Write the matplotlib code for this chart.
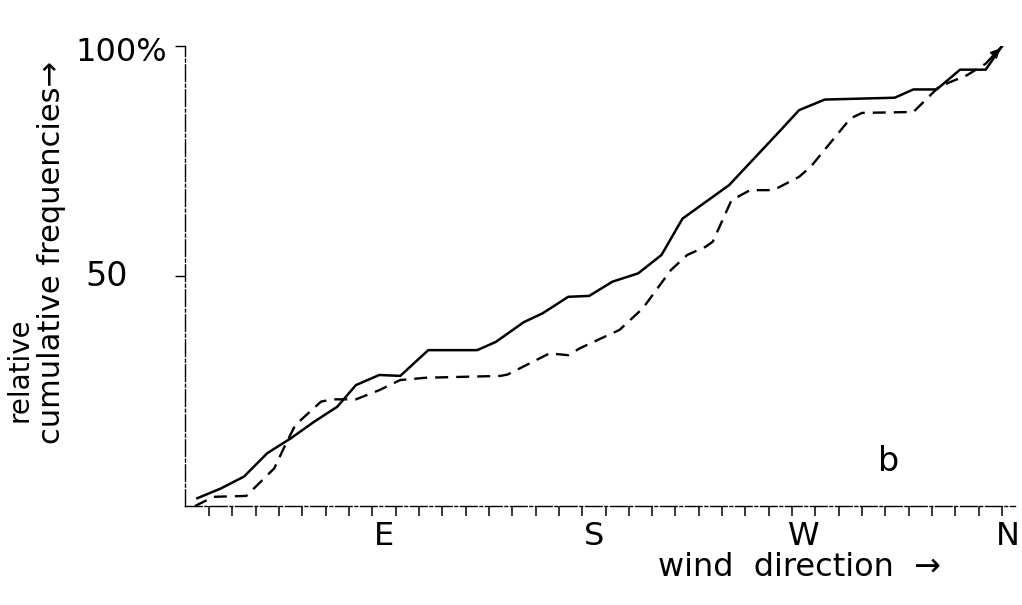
import matplotlib
matplotlib.use('Agg')
import matplotlib.pyplot as plt
from matplotlib.transforms import ScaledTranslation

# wind direction in degrees (N = 360), relative cumulative frequency in %
solid_x = [10, 20, 30, 40, 50, 60, 70, 78, 88, 97, 109, 130, 138, 150, 158, 169, 178,
           188, 199, 209, 218, 238, 260, 268, 279, 309, 317, 327, 337, 348, 355]
solid_y = [1.7, 3.8, 6.4, 11.5, 14.7, 18.3, 21.6, 26.3, 28.5, 28.3, 33.9, 33.9, 35.7,
           40.0, 41.9, 45.5, 45.7, 48.8, 50.6, 54.6, 62.5, 69.8, 81.7, 86.1, 88.4, 88.8,
           90.6, 90.6, 94.9, 94.9, 100]

dashed_x = [9, 17, 31, 43, 48, 52, 63, 68, 78, 88, 97, 108, 140, 143, 161, 169, 174, 182,
            191, 201, 213, 220, 228, 231, 239, 247, 257, 268, 273, 290, 295, 317, 328,
            340, 348, 355]
dashed_y = [0, 2.0, 2.2, 8.2, 13.6, 17.6, 22.7, 23.2, 23.2, 25.2, 27.4, 27.9, 28.3, 28.6,
            33.2, 32.8, 34.3, 36.2, 38.3, 43.0, 51.3, 54.6, 56.4, 57.5, 66.5, 68.7, 68.7,
            71.6, 73.8, 84.3, 85.5, 85.7, 91.2, 93.7, 96.2, 100]

dir_ticks = [90, 180, 270, 360]
dir_labels = ['E', 'S', 'W', 'N']
minor_ticks = list(range(15, 360, 10))

plt.rcParams['font.family'] = ['DejaVu Sans']

fig = plt.figure(figsize=(10.22, 6.05), dpi=100)
ax = fig.add_axes([0.181, 0.1636, 0.812, 0.760])

ax.plot(solid_x, solid_y, color='black', lw=1.8, solid_joinstyle='round')
ax.plot(dashed_x, dashed_y, color='black', lw=1.7, dashes=(5.5, 3.4))
ax.annotate('', xy=(dashed_x[-1], dashed_y[-1]), xytext=(dashed_x[-2], dashed_y[-2]),
            arrowprops=dict(arrowstyle='-|>', color='black', lw=1.2, mutation_scale=14))

ax.set_xlim(4.7, 360.5)
ax.set_ylim(0, 100)

for s in ['top', 'right']:
    ax.spines[s].set_visible(False)
for s in ['left', 'bottom']:
    ax.spines[s].set_linewidth(1.0)
    ax.spines[s].set_linestyle((0, (12, 2, 2, 2)))

ax.set_xticks(dir_ticks)
ax.set_xticklabels(dir_labels, fontsize=23)
ax.set_xticks(minor_ticks, minor=True)
ax.tick_params(axis='x', which='major', length=0, pad=11)
ax.tick_params(axis='x', which='minor', length=7, width=1.1, direction='out')

# keep the N label inside the picture
last = ax.get_xticklabels()[-1]
last.set_ha('right')
last.set_transform(last.get_transform() + ScaledTranslation(6 / 100, 0, fig.dpi_scale_trans))

ax.set_yticks([50, 100])
ax.set_yticklabels(['', ''])
ax.tick_params(axis='y', length=7, width=1.0, direction='out')
ytr = ax.get_yaxis_transform()
ax.text(-0.069, 50, '50', transform=ytr, ha='right', va='center', fontsize=24)
ax.text(-0.022, 98.7, '100%', transform=ytr, ha='right', va='center', fontsize=23)

ax.text(306.4, 9.6, 'b', ha='center', va='center', fontsize=24)

fig.text(20 / 1022, 1 - 317 / 605, 'relative', rotation=90, ha='center', va='top',
         fontsize=20)
fig.text(52 / 1022, 1 - 253 / 605, 'cumulative frequencies\u2192', rotation=90,
         ha='center', va='center', fontsize=22)
fig.text(800 / 1022, 1 - 568 / 605, 'wind  direction  \u2192', ha='center', va='center',
         fontsize=23)

fig.savefig('out.png', dpi=100)
